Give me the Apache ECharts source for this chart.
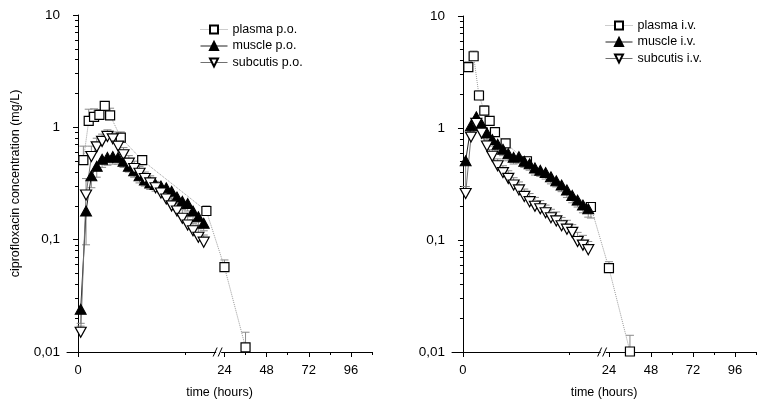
<!DOCTYPE html>
<html><head><meta charset="utf-8">
<script src="https://cdn.jsdelivr.net/npm/echarts@6/dist/echarts.min.js"></script>
<style>html,body{margin:0;padding:0;background:#fff}#c{width:765px;height:404px}</style>
</head><body><div id="c"></div>
<script>
// ---------- tick labels ----------
const xTickHours = [0, 24, 48, 72, 96];
const xMinorHours = [10, 36, 60, 84, 108];
const yMinorTicks = [0.02,0.03,0.04,0.05,0.06,0.07,0.08,0.09,0.2,0.3,0.4,0.5,0.6,0.7,0.8,0.9,2,3,4,5,6,7,8,9];

// ---------- sampling times (hours) ----------
const plasmaTimes = [0.5, 1, 1.5, 2, 2.5, 3, 4, 6, 12, 24, 36];
const tissueTimes = [0.25,0.75,1.25,1.75,2.25,2.75,3.25,3.75,4.25,4.75,5.25,5.75,6.25,6.75,7.25,7.75,8.25,8.75,9.25,9.75,10.25,10.75,11.25,11.75];

// ---------- oral (p.o.) ----------
const plasmaPO    = [0.51,1.14,1.24,1.29,1.55,1.28,0.81,0.51,0.18,0.057,0.011];
const plasmaPOErr = [0.17,0.31,0.22,0.15,0.12,0.2,0.1,0.05,0.02,0.009,0.004];
const musclePO    = [0.024,0.18,0.37,0.45,0.52,0.54,0.55,0.54,0.50,0.45,0.41,0.37,0.34,0.32,0.31,0.30,0.29,0.27,0.24,0.22,0.21,0.18,0.16,0.14];
const musclePOErr = [-0.006,-0.09,-0.08,-0.09,-0.08,-0.08,-0.08,-0.07,-0.06,-0.05,-0.05,-0.05,-0.04,-0.04,-0.04,-0.04,-0.04,-0.04,-0.03,-0.03,-0.03,-0.03,-0.025,-0.02];
const subcutisPO    = [0.015,0.25,0.55,0.67,0.75,0.83,0.79,0.68,0.57,0.48,0.43,0.39,0.35,0.32,0.29,0.26,0.23,0.20,0.18,0.155,0.135,0.12,0.105,0.095];
const subcutisPOErr = [0.002,0.1,0.13,0.13,0.12,0.12,0.12,0.1,0.09,0.08,0.07,0.06,0.05,0.05,0.04,0.04,0.04,0.035,0.03,0.03,0.025,0.02,0.02,0.015];

// ---------- intravenous (i.v.) ----------
const plasmaIV    = [3.5,4.37,1.95,1.43,1.16,0.92,0.73,0.505,0.197,0.056,0.0101];
const plasmaIVErr = [0.4,0.5,0.2,0.15,0.1,0.08,0.06,0.05,-0.04,0.008,0.004];
const muscleIV    = [0.51,1.05,1.26,1.08,0.9,0.79,0.715,0.646,0.59,0.547,0.555,0.505,0.48,0.44,0.42,0.40,0.367,0.338,0.31,0.28,0.25,0.227,0.205,0.19];
const muscleIVErr = [-0.21,-0.15,-0.2,-0.15,-0.12,-0.1,-0.09,-0.08,-0.08,-0.07,-0.07,-0.06,-0.06,-0.06,-0.05,-0.05,-0.05,-0.04,-0.04,-0.04,-0.035,-0.03,-0.03,-0.03];
const subcutisIV    = [0.26,0.83,1.1,0.9,0.69,0.56,0.46,0.40,0.355,0.31,0.28,0.245,0.22,0.2,0.19,0.175,0.158,0.148,0.134,0.125,0.117,0.097,0.09,0.082];
const subcutisIVErr = [0.04,0.1,0.12,0.1,0.09,0.08,0.07,0.06,0.06,0.05,0.05,0.04,0.04,0.04,0.035,0.03,0.03,0.03,0.025,0.025,0.02,0.02,0.02,0.015];

// ---------- broken time scale (segment 0–~13 h, then 24–108 h compressed) ----------
const SEG1_END = 13.1, U24 = 13.69, R = 0.1642, UMIN = -1.03;
function u(t) { return t <= 20 ? t : U24 + (t - 24) * R; }
function tOf(v) { return v <= SEG1_END ? v : 24 + (v - U24) / R; }
const UMAX = u(108);

const FONT = 'Liberation Sans, Arial, Helvetica, sans-serif';
const chart = echarts.init(document.getElementById('c'), null, {renderer: 'canvas'});

const sqSym = 'rect';
const upTri = 'path://M5,0L10,9L0,9Z';
const dnTri = 'path://M0,0L10,0L5,9Z';

function pts(times, vals) { return times.map((t, i) => [u(t), vals[i]]); }

function errSeries(times, vals, errs, ax) {
  return {
    type: 'custom', xAxisIndex: ax.x, yAxisIndex: ax.y, z: 1, silent: true,
    data: times.map((t, i) => [u(t), vals[i], vals[i] + errs[i]]),
    encode: {x: 0, y: [1, 2]},
    renderItem(params, api) {
      const p0 = api.coord([api.value(0), api.value(1)]);
      const p1 = api.coord([api.value(0), api.value(2)]);
      const hw = 4;
      return {type: 'group', children: [
        {type: 'line', shape: {x1: p0[0], y1: p0[1], x2: p1[0], y2: p1[1]}, style: {stroke: '#8a8a8a', lineWidth: 1}},
        {type: 'line', shape: {x1: p1[0] - hw, y1: p1[1], x2: p1[0] + hw, y2: p1[1]}, style: {stroke: '#8a8a8a', lineWidth: 1}}
      ]};
    }
  };
}

function lineSeries(name, times, vals, kind, ax) {
  const base = {
    name, type: 'line', xAxisIndex: ax.x, yAxisIndex: ax.y, z: 3,
    data: pts(times, vals), animation: false, silent: true
  };
  if (kind === 'plasma') {
    Object.assign(base, {symbol: sqSym, symbolSize: 9,
      lineStyle: {color: '#9a9a9a', width: 1, type: 'dotted'},
      itemStyle: {color: '#fff', borderColor: '#000', borderWidth: 1.2}});
  } else if (kind === 'muscle') {
    Object.assign(base, {symbol: upTri, symbolSize: [11, 10],
      lineStyle: {color: '#222', width: 1},
      itemStyle: {color: '#000', borderColor: '#000', borderWidth: 1}});
  } else {
    Object.assign(base, {symbol: dnTri, symbolSize: [11, 10],
      lineStyle: {color: '#707070', width: 1},
      itemStyle: {color: '#fff', borderColor: '#000', borderWidth: 1.2}});
  }
  return base;
}

function xAxes(grid) {
  const common = {type: 'value', gridIndex: grid, min: UMIN, max: UMAX, position: 'bottom', offset: 0,
    splitLine: {show: false}};
  return [
    Object.assign({}, common, {
      axisLine: {show: true, lineStyle: {color: '#000', width: 1}},
      axisTick: {show: true, inside: false, length: 5, lineStyle: {color: '#000'}, customValues: xTickHours.map(u)},
      axisLabel: {show: true, margin: 12, color: '#000', fontFamily: FONT, fontSize: 13,
        customValues: xTickHours.map(u), formatter: v => String(Math.round(tOf(v)))},
      name: 'time (hours)', nameLocation: 'middle', nameGap: 34,
      nameTextStyle: {color: '#000', fontFamily: FONT, fontSize: 12.5}
    }),
    Object.assign({}, common, {
      axisLine: {show: false},
      axisTick: {show: true, inside: false, length: 3, lineStyle: {color: '#000'}, customValues: xMinorHours.map(u)},
      axisLabel: {show: false}
    })
  ];
}

function yAxes(grid, withName) {
  const common = {type: 'log', logBase: 10, gridIndex: grid, min: 0.01, max: 10, position: 'left', offset: 0,
    splitLine: {show: false}, minorTick: {show: false}};
  const major = Object.assign({}, common, {
    axisLine: {show: true, lineStyle: {color: '#000', width: 1}},
    axisTick: {show: true, inside: false, length: 5, lineStyle: {color: '#000'}},
    axisLabel: {show: true, margin: 7, color: '#000', fontFamily: FONT, fontSize: 13.5,
      formatter: v => (v >= 1 ? String(Math.round(v)) : String(v).replace('.', ','))}
  });
  if (withName) {
    Object.assign(major, {name: 'ciprofloxacin concentration (mg/L)', nameLocation: 'middle', nameGap: 45,
      nameTextStyle: {color: '#000', fontFamily: FONT, fontSize: 12.5}});
  }
  return [major, Object.assign({}, common, {
    axisLine: {show: false},
    axisTick: {show: true, inside: false, length: 3, lineStyle: {color: '#000'}, customValues: yMinorTicks},
    axisLabel: {show: false}
  })];
}

const L = {x: 0, y: 0}, Rt = {x: 2, y: 2};
const legendCommon = {orient: 'vertical', padding: 0, itemWidth: 27, itemHeight: 10, itemGap: 3.5,
  lineStyle: {width: 1}, textStyle: {color: '#000', fontFamily: FONT, fontSize: 12.5, lineHeight: 13}};

const option = {
  animation: false,
  backgroundColor: '#fff',
  textStyle: {fontFamily: FONT},
  grid: [
    {left: 67, top: 15, width: 305, height: 343},
    {left: 452, top: 16, width: 304, height: 343}
  ],
  xAxis: [...xAxes(0), ...xAxes(1)],
  yAxis: [...yAxes(0, true), ...yAxes(1, false)],
  legend: [
    Object.assign({}, legendCommon, {left: 200, top: 23, data: ['plasma p.o.', 'muscle p.o.', 'subcutis p.o.']}),
    Object.assign({}, legendCommon, {left: 605, top: 19, data: ['plasma i.v.', 'muscle i.v.', 'subcutis i.v.']})
  ],
  series: [
    errSeries(plasmaTimes, plasmaPO, plasmaPOErr, L),
    errSeries(tissueTimes, musclePO, musclePOErr, L),
    errSeries(tissueTimes, subcutisPO, subcutisPOErr, L),
    lineSeries('plasma p.o.', plasmaTimes, plasmaPO, 'plasma', L),
    lineSeries('muscle p.o.', tissueTimes, musclePO, 'muscle', L),
    lineSeries('subcutis p.o.', tissueTimes, subcutisPO, 'subcutis', L),
    errSeries(plasmaTimes, plasmaIV, plasmaIVErr, Rt),
    errSeries(tissueTimes, muscleIV, muscleIVErr, Rt),
    errSeries(tissueTimes, subcutisIV, subcutisIVErr, Rt),
    lineSeries('plasma i.v.', plasmaTimes, plasmaIV, 'plasma', Rt),
    lineSeries('muscle i.v.', tissueTimes, muscleIV, 'muscle', Rt),
    lineSeries('subcutis i.v.', tissueTimes, subcutisIV, 'subcutis', Rt)
  ]
};
chart.setOption(option);

// axis-break marks "//"
function breakMarks(xi, yi) {
  const p = chart.convertToPixel({xAxisIndex: xi, yAxisIndex: yi}, [SEG1_END, 0.01]);
  const cx = p[0], cy = p[1];
  return [
    {type: 'rect', shape: {x: cx - 2, y: cy - 1.5, width: 5, height: 3}, style: {fill: '#fff'}, z: 100},
    {type: 'line', shape: {x1: cx - 5, y1: cy + 4.5, x2: cx - 1, y2: cy - 4.5}, style: {stroke: '#000', lineWidth: 1}, z: 101},
    {type: 'line', shape: {x1: cx, y1: cy + 4.5, x2: cx + 4, y2: cy - 4.5}, style: {stroke: '#000', lineWidth: 1}, z: 101}
  ];
}
chart.setOption({graphic: [...breakMarks(0, 0), ...breakMarks(2, 2)]});
</script></body></html>
